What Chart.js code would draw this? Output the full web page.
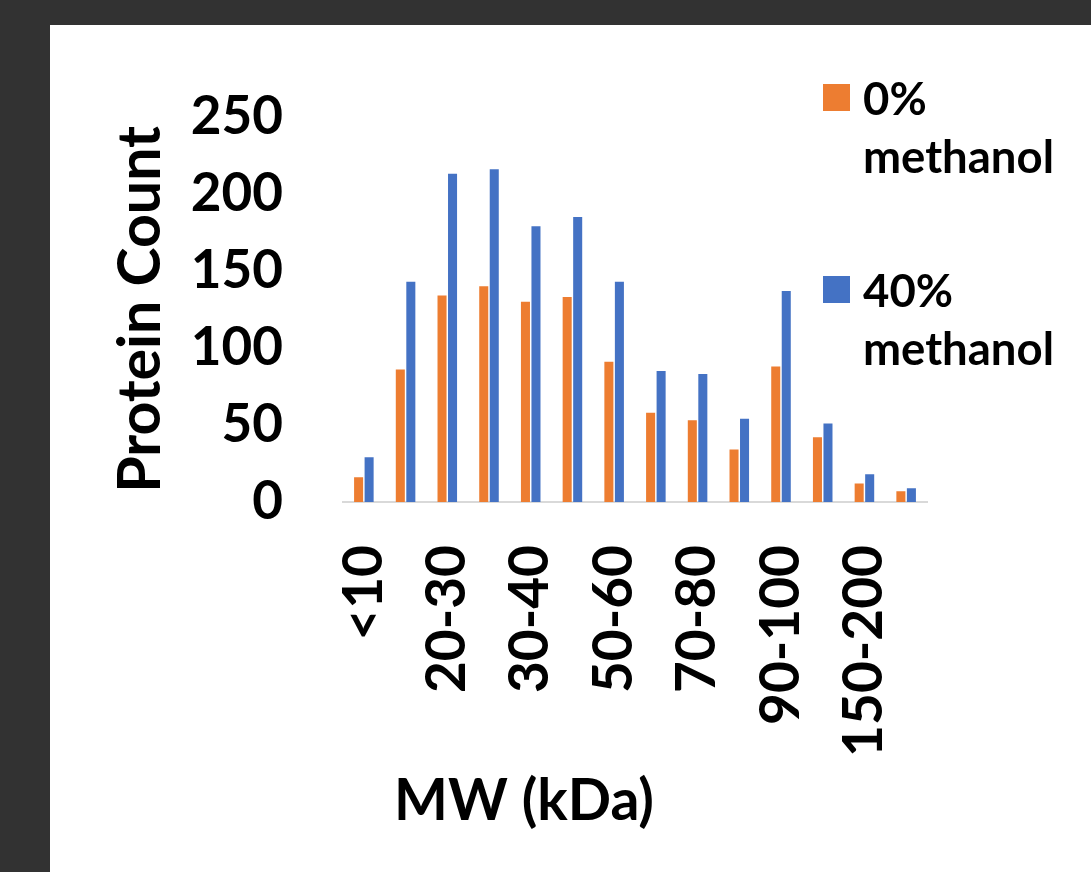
<!DOCTYPE html>
<html>
<head>
<meta charset="utf-8">
<script src="https://cdn.jsdelivr.net/npm/chart.js@4.4.1/dist/chart.umd.min.js"></script>
<style>
  html, body { margin: 0; padding: 0; }
  body { width: 1091px; height: 872px; background: #323232; position: relative; overflow: hidden; }
  #card { position: absolute; left: 50px; top: 25px; width: 1041px; height: 847px; background: #ffffff; }
  #card canvas { position: absolute; left: 0; top: 0; }
  #legend { position: absolute; left: 773px; top: 44px; font-family: Lato, sans-serif; font-weight: 700; font-size: 45.5px; color: #000; }
  .item { display: flex; align-items: flex-start; }
  .box { width: 27px; height: 27px; margin-top: 15px; margin-right: 13px; flex: none; }
  .txt { line-height: 58px; white-space: nowrap; }
</style>
</head>
<body>
<div id="card">
  <canvas id="c" width="1041" height="847"></canvas>
  <div id="legend"></div>
</div>
<script>
// ---- data ----
const categories = ['<10', '10-20', '20-30', '25-30', '30-40', '40-50', '50-60', '60-70', '70-80', '80-90', '90-100', '100-150', '150-200', '>200'];
const seriesNames = [['0%', 'methanol'], ['40%', 'methanol']];
const methanol0 = [16, 86, 134, 140, 130, 133, 91, 58, 53, 34, 88, 42, 12, 7];
const methanol40 = [29, 143, 213, 216, 179, 185, 143, 85, 83, 54, 137, 51, 18, 9];
const yTickValues = [0, 50, 100, 150, 200, 250];
const yTitle = 'Protein Count';
const xTitle = 'MW (kDa)';

const colors = ['#ED7D31', '#4472C4'];

Chart.defaults.font.family = 'Lato, sans-serif';
Chart.defaults.font.weight = 'bold';
Chart.defaults.color = '#000000';

const xTitlePlugin = {
  id: 'xTitlePlugin',
  afterDraw(chart) {
    const {ctx, chartArea} = chart;
    ctx.save();
    ctx.font = 'bold 57px Lato, sans-serif';
    ctx.fillStyle = '#000';
    ctx.textAlign = 'center';
    ctx.textBaseline = 'middle';
    const x = chartArea.left + (chartArea.right - chartArea.left) * 0.31;
    const y = chartArea.bottom + 300;
    ctx.fillText(xTitle, x, y);
    ctx.restore();
  }
};

const chart = new Chart(document.getElementById('c'), {
  type: 'bar',
  data: {
    labels: categories,
    datasets: [
      { label: seriesNames[0].join(' '), data: methanol0, backgroundColor: colors[0], categoryPercentage: 0.504, barPercentage: 0.86 },
      { label: seriesNames[1].join(' '), data: methanol40, backgroundColor: colors[1], categoryPercentage: 0.504, barPercentage: 0.86 }
    ]
  },
  options: {
    responsive: false,
    animation: false,
    devicePixelRatio: 1,
    layout: { padding: { left: 0, right: 164, top: 90, bottom: 0 } },
    plugins: { legend: { display: false }, tooltip: { enabled: false } },
    scales: {
      x: {
        grid: { display: false, drawTicks: false },
        border: { display: true, color: '#D9D9D9', width: 2 },
        ticks: {
          autoSkip: false,
          minRotation: 90,
          maxRotation: 90,
          padding: 43,
          font: { size: 55, weight: 'bold' },
          color: '#000',
          callback: function (v, i) { return i % 2 === 0 ? categories[i] : ''; }
        },
        afterFit: function (s) { s.height = 370; }
      },
      y: {
        min: 0,
        max: 250,
        grid: { display: false, drawTicks: false },
        border: { display: false },
        afterBuildTicks: function (s) { s.ticks = yTickValues.map(v => ({ value: v })); },
        ticks: { padding: 60, font: { size: 53, weight: 'bold' }, color: '#000' },
        title: { display: true, text: yTitle, font: { size: 59, weight: 'bold' }, color: '#000', padding: { top: 56, bottom: 0 } },
        afterFit: function (s) { s.width = 293; }
      }
    }
  },
  plugins: [xTitlePlugin]
});

// HTML legend built from the datasets
const legend = document.getElementById('legend');
chart.data.datasets.forEach((ds, i) => {
  const item = document.createElement('div');
  item.className = 'item';
  if (i > 0) item.style.marginTop = '76px';
  const box = document.createElement('div');
  box.className = 'box';
  box.style.background = ds.backgroundColor;
  const txt = document.createElement('div');
  txt.className = 'txt';
  txt.innerHTML = seriesNames[i].join('<br>');
  item.appendChild(box);
  item.appendChild(txt);
  legend.appendChild(item);
});
</script>
</body>
</html>
